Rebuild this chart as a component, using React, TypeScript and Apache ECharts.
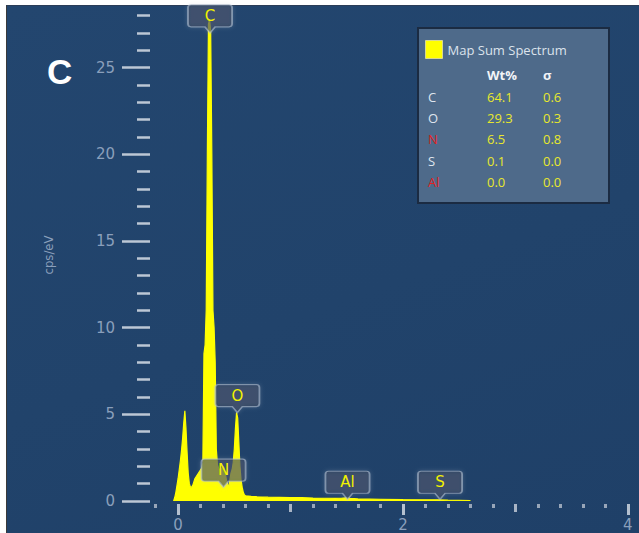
import React, { useEffect, useRef } from 'react';
import * as echarts from 'echarts';

// Spectrum (energy in keV, intensity in cps/eV)
const energyKeV = [
  -0.04, -0.03, -0.02, -0.01, 0, 0.01, 0.02, 0.03, 0.04, 0.05, 0.06, 0.07, 0.08, 0.09, 0.1,
  0.11, 0.12, 0.13, 0.14, 0.15, 0.16, 0.17, 0.18, 0.19, 0.2, 0.21, 0.22,
  0.23, 0.24, 0.25, 0.26, 0.27, 0.28, 0.29, 0.3, 0.31, 0.32, 0.33, 0.34,
  0.35, 0.36, 0.37, 0.38, 0.39, 0.4, 0.41, 0.42, 0.43, 0.44, 0.45, 0.46, 0.47, 0.48, 0.49, 0.5,
  0.51, 0.52, 0.53, 0.54, 0.55, 0.56, 0.57, 0.58, 0.59, 0.6,
  0.65, 0.7, 0.8, 0.9, 1.0, 1.1, 1.2, 1.3, 1.4, 1.45, 1.49, 1.53, 1.6, 1.8, 2.0, 2.2, 2.31, 2.4, 2.6,
];
const countsPerEV = [
  0, 0.2, 0.5, 0.9, 1.3, 1.8, 2.3, 2.9, 3.6, 4.5, 5.2, 4.2, 2.8, 1.6, 1.0,
  0.8, 0.8, 0.9, 1.1, 1.3, 1.4, 1.5, 1.6, 1.7, 1.8, 1.9, 2.2,
  8.5, 9.0, 11, 20, 27.5, 27.8, 27, 20, 11, 10, 8, 3,
  2.1, 1.9, 1.8, 1.7, 1.9, 2.0, 1.9, 1.6, 1.2, 1.0, 0.7, 1.2, 1.6, 1.8, 2.2, 3.0,
  4.2, 5.1, 4.8, 3.4, 2.0, 1.2, 0.8, 0.5, 0.35, 0.3,
  0.27, 0.25, 0.22, 0.21, 0.2, 0.19, 0.17, 0.16, 0.15, 0.16, 0.18, 0.15, 0.12, 0.1, 0.08, 0.07, 0.07, 0.05, 0.03,
];

// Element markers on the spectrum
const markerNames = ['C', 'O', 'N', 'Al', 'S'];
const markerEnergy = [0.284, 0.527, 0.404, 1.507, 2.33];
const markerAnchor = [27.0, 5.1, 0.8, 0.1, 0.1];

// Quantification table
const tableElements = ['C', 'O', 'N', 'S', 'Al'];
const tableWt = ['64.1', '29.3', '6.5', '0.1', '0.0'];
const tableSigma = ['0.6', '0.3', '0.8', '0.0', '0.0'];
const flaggedElements = ['N', 'Al'];

// Axis ticks
const yMajorTicks = [0, 5, 10, 15, 20, 25];
const yMinorTicks = [1, 2, 3, 4, 6, 7, 8, 9, 11, 12, 13, 14, 16, 17, 18, 19, 21, 22, 23, 24, 26, 27, 28];
const xMajorTicks = [0, 2, 4];
const xMidTicks = [1, 3];
const xMinorTicks = [-0.2, 0.2, 0.4, 0.6, 0.8, 1.2, 1.4, 1.6, 1.8, 2.2, 2.4, 2.6, 2.8, 3.2, 3.4, 3.6, 3.8];

const AXIS_LABEL = '#8a9fbb';
const TICK = '#bcc7d5';
const YELLOW = '#ffff00';

export default function App() {
  const ref = useRef<HTMLDivElement>(null);

  useEffect(() => {
    document.body.style.margin = '0';
    if (!ref.current) return;
    const chart = echarts.init(ref.current, undefined, { renderer: 'svg' });

    const data = energyKeV.map((e, i) => [e, countsPerEV[i]]);
    const markerPath =
      'path://M3,0 L41,0 Q44,0 44,3 L44,19 Q44,22 41,22 L27,22 L22,28 L17,22 L3,22 Q0,22 0,19 L0,3 Q0,0 3,0 Z';

    const rowY0 = 97;
    const rowStep = 21.2;
    const tableTexts: any[] = [];
    tableElements.forEach((el, i) => {
      const y = rowY0 + i * rowStep;
      tableTexts.push({
        type: 'text', x: 428, y,
        style: { text: el, fill: flaggedElements.includes(el) ? '#e0231f' : '#dfe5ee', fontSize: 13, fontFamily: 'Open Sans', verticalAlign: 'middle' },
      });
      tableTexts.push({
        type: 'text', x: 487, y,
        style: { text: tableWt[i], fill: '#e8e82c', fontSize: 13, fontFamily: 'Open Sans', verticalAlign: 'middle' },
      });
      tableTexts.push({
        type: 'text', x: 543, y,
        style: { text: tableSigma[i], fill: '#e8e82c', fontSize: 13, fontFamily: 'Open Sans', verticalAlign: 'middle' },
      });
    });

    const hiddenAxisBase = {
      axisLine: { show: false, onZero: false },
      splitLine: { show: false },
    };

    chart.setOption({
      animation: false,
      backgroundColor: 'transparent',
      grid: { left: 150, right: 0, top: 6, bottom: 32, containLabel: false },
      legend: {
        data: [{ name: 'Map Sum Spectrum', icon: 'rect' }],
        left: 425,
        top: 40,
        padding: 0,
        itemWidth: 17,
        itemHeight: 18,
        itemStyle: { borderColor: '#d8d890', borderWidth: 1 },
        textStyle: { color: '#dce3ec', fontSize: 13, fontFamily: 'Open Sans' },
        selectedMode: false,
      },
      xAxis: [
        {
          type: 'value', min: -0.25, max: 4.1, offset: 3, position: 'bottom',
          ...hiddenAxisBase,
          axisTick: { show: true, customValues: xMinorTicks, length: 4, lineStyle: { color: '#98a6b9', width: 3 } },
          axisLabel: { customValues: xMajorTicks, color: AXIS_LABEL, fontSize: 15, fontFamily: 'DejaVu Sans', margin: 13 },
        },
        {
          type: 'value', min: -0.25, max: 4.1, offset: 3, position: 'bottom',
          ...hiddenAxisBase,
          axisTick: { show: true, customValues: xMidTicks, length: 8, lineStyle: { color: '#a8b4c5', width: 3 } },
          axisLabel: { show: false },
        },
        {
          type: 'value', min: -0.25, max: 4.1, offset: 3, position: 'bottom',
          ...hiddenAxisBase,
          axisTick: { show: true, customValues: xMajorTicks, length: 11, lineStyle: { color: '#b4c0cf', width: 3 } },
          axisLabel: { show: false },
        },
      ],
      yAxis: [
        {
          type: 'value', min: 0, max: 28.55, position: 'left',
          ...hiddenAxisBase,
          axisTick: { show: true, customValues: yMinorTicks, length: 13, lineStyle: { color: TICK, width: 2.5 } },
          axisLabel: { show: false },
        },
        {
          type: 'value', min: 0, max: 28.55, position: 'left',
          ...hiddenAxisBase,
          axisTick: { show: true, customValues: yMajorTicks, length: 28, lineStyle: { color: TICK, width: 2.5 } },
          axisLabel: { customValues: yMajorTicks, color: AXIS_LABEL, fontSize: 15, fontFamily: 'DejaVu Sans', margin: 35 },
        },
      ],
      series: [
        {
          name: 'Map Sum Spectrum',
          type: 'line',
          xAxisIndex: 0,
          yAxisIndex: 0,
          data,
          showSymbol: false,
          symbol: 'none',
          color: YELLOW,
          lineStyle: { color: YELLOW, width: 1.2 },
          areaStyle: { color: YELLOW, opacity: 1 },
          markPoint: {
            symbol: markerPath,
            symbolSize: [44, 28],
            symbolOffset: [0, '-50%'],
            itemStyle: {
              color: 'rgba(25,45,80,0.6)',
              borderColor: 'rgba(185,196,212,0.6)',
              borderWidth: 1.5,
              shadowColor: 'rgba(190,200,215,0.35)',
              shadowBlur: 4,
            },
            label: {
              show: true,
              position: 'inside',
              offset: [0, -3],
              formatter: '{b}',
              color: '#f2f200',
              fontSize: 15,
              fontFamily: 'DejaVu Sans',
            },
            data: markerNames.map((n, i) => ({ name: n, coord: [markerEnergy[i], markerAnchor[i]] })),
          },
        },
      ],
      graphic: [
        {
          type: 'rect',
          shape: { x: 418, y: 28, width: 191, height: 175 },
          style: { fill: '#4e6a8a', stroke: '#1b2b42', lineWidth: 2 },
          z: -1,
        },
        {
          type: 'text', x: 487, y: 75,
          style: { text: 'Wt%', fill: '#f2f4f8', fontSize: 13, fontWeight: 'bold', fontFamily: 'Open Sans', verticalAlign: 'middle' },
        },
        {
          type: 'text', x: 543, y: 75,
          style: { text: 'σ', fill: '#f2f4f8', fontSize: 13, fontWeight: 'bold', fontFamily: 'Open Sans', verticalAlign: 'middle' },
        },
        ...tableTexts,
        {
          type: 'text', x: 48, y: 255, rotation: Math.PI / 2,
          style: { text: 'cps/eV', fill: AXIS_LABEL, fontSize: 13, fontFamily: "'DejaVu Sans Condensed', 'Liberation Sans', sans-serif", align: 'center', verticalAlign: 'middle' },
        },
        {
          type: 'text', x: 47, y: 71,
          style: { text: 'C', fill: '#ffffff', fontSize: 35, fontWeight: 'bold', fontFamily: 'Liberation Sans', verticalAlign: 'middle' },
        },
      ],
    });

    return () => chart.dispose();
  }, []);

  return (
    <div style={{ position: 'relative', width: 639, height: 533, background: '#ffffff', overflow: 'hidden' }}>
      <div
        style={{
          position: 'absolute', left: 6, top: 5, right: 0, bottom: 0,
          background: 'linear-gradient(160deg, #23466f 0%, #21436b 55%, #1f4068 100%)',
          borderLeft: '1px solid #3a3a3a', borderTop: '1px solid #2b3d58',
        }}
      />
      <div ref={ref} style={{ position: 'absolute', left: 0, top: 0, width: 639, height: 533 }} />
    </div>
  );
}
